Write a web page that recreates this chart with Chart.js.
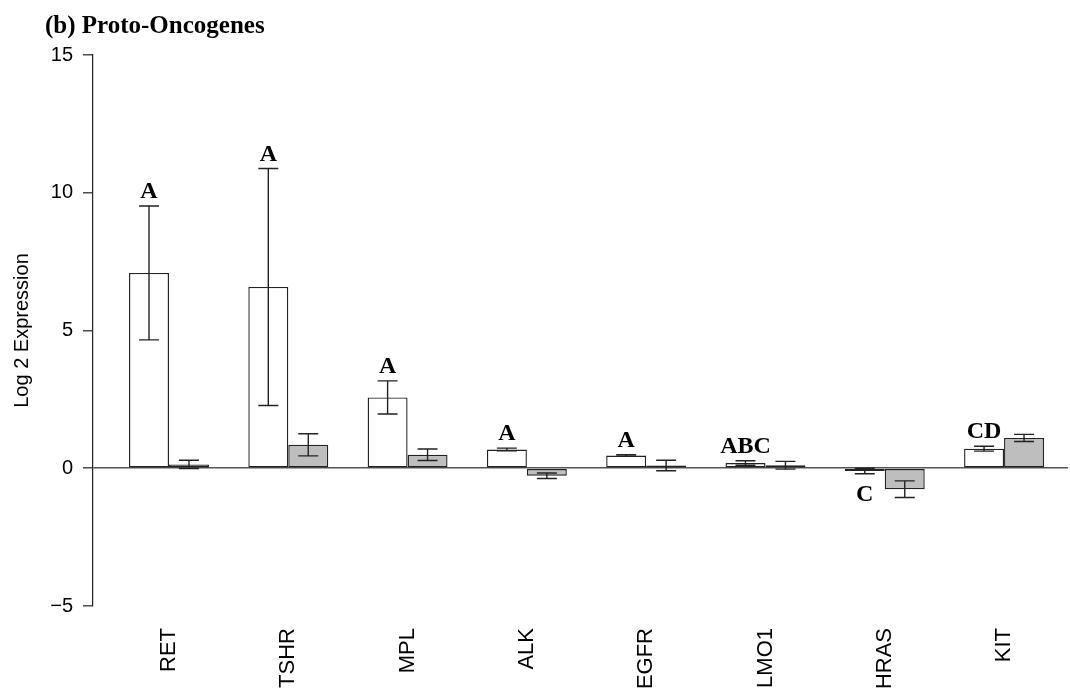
<!DOCTYPE html>
<html>
<head>
<meta charset="utf-8">
<script src="https://cdn.jsdelivr.net/npm/chart.js@4.4.0/dist/chart.umd.min.js"></script>
<style>
    html, body { margin: 0; padding: 0; background: #fff; }
    #wrap { width: 1070px; height: 692px; }
</style>
</head>
<body>
<div id="wrap"><canvas id="chart" width="1070" height="692"></canvas></div>
<script>
// Gene names along the x axis
const genes = ['RET', 'TSHR', 'MPL', 'ALK', 'EGFR', 'LMO1', 'HRAS', 'KIT'];

// White bars (first group) and their error half-widths
const whiteMeans = [7.09, 6.58, 2.57, 0.68, 0.46, 0.19, -0.10, 0.71];
const whiteErrors = [2.43, 4.30, 0.60, 0.05, 0.03, 0.08, 0.10, 0.09];

// Gray bars (second group) and their error half-widths
const grayMeans = [0.14, 0.85, 0.49, -0.27, 0.10, 0.11, -0.76, 1.10];
const grayErrors = [0.15, 0.40, 0.21, 0.10, 0.19, 0.14, 0.30, 0.13];

// Significance letters over the white bars
const letters = ['A', 'A', 'A', 'A', 'A', 'ABC', 'C', 'CD'];

const yTicks = [-5, 0, 5, 10, 15];

const SANS = "'Liberation Sans', Arial, Helvetica, sans-serif";
const SERIF = "'Liberation Serif', 'Times New Roman', serif";
Chart.defaults.font.family = SANS;
Chart.defaults.color = '#000';

// Error bars drawn from the bar elements and the y scale
const errorBarsPlugin = {
    id: 'errorBars',
    afterDatasetsDraw(chart) {
        const { ctx } = chart;
        const y = chart.scales.y;
        const means = [whiteMeans, grayMeans];
        const errs = [whiteErrors, grayErrors];
        ctx.save();
        ctx.strokeStyle = '#222';
        ctx.lineWidth = 1.4;
        chart.data.datasets.forEach((ds, d) => {
            chart.getDatasetMeta(d).data.forEach((bar, i) => {
                const hi = y.getPixelForValue(means[d][i] + errs[d][i]);
                const lo = y.getPixelForValue(means[d][i] - errs[d][i]);
                const half = bar.width / 4;
                ctx.beginPath();
                ctx.moveTo(bar.x, hi); ctx.lineTo(bar.x, lo);
                ctx.moveTo(bar.x - half, hi); ctx.lineTo(bar.x + half, hi);
                ctx.moveTo(bar.x - half, lo); ctx.lineTo(bar.x + half, lo);
                ctx.stroke();
            });
        });
        ctx.restore();
    }
};

// Letters above (or below, for negative means) the white bars
const lettersPlugin = {
    id: 'letters',
    afterDatasetsDraw(chart) {
        const { ctx } = chart;
        const y = chart.scales.y;
        ctx.save();
        ctx.font = 'bold 24px ' + SERIF;
        ctx.fillStyle = '#000';
        ctx.textAlign = 'center';
        ctx.textBaseline = 'alphabetic';
        chart.getDatasetMeta(0).data.forEach((bar, i) => {
            const m = whiteMeans[i], e = whiteErrors[i];
            if (m >= 0) {
                ctx.fillText(letters[i], bar.x, y.getPixelForValue(m + e) - 8);
            } else {
                ctx.fillText(letters[i], bar.x, y.getPixelForValue(m - e) + 27);
            }
        });
        ctx.restore();
    }
};

// Panel title in the top-left corner
const panelTitlePlugin = {
    id: 'panelTitle',
    afterDraw(chart) {
        const { ctx } = chart;
        ctx.save();
        ctx.font = 'bold 25px ' + SERIF;
        ctx.fillStyle = '#000';
        ctx.textAlign = 'left';
        ctx.textBaseline = 'alphabetic';
        ctx.fillText('(b) Proto-Oncogenes', 45, 33);
        ctx.restore();
    }
};

const ctx = document.getElementById('chart').getContext('2d');

new Chart(ctx, {
    type: 'bar',
    data: {
        datasets: [
            {
                label: 'White',
                data: whiteMeans.map((v, i) => ({ x: i, y: v })),
                backgroundColor: '#ffffff',
                borderColor: '#222',
                borderWidth: 1.4,
                borderSkipped: false,
                categoryPercentage: 0.67,
                barPercentage: 1.0
            },
            {
                label: 'Gray',
                data: grayMeans.map((v, i) => ({ x: i, y: v })),
                backgroundColor: '#bebebe',
                borderColor: '#222',
                borderWidth: 1.4,
                borderSkipped: false,
                categoryPercentage: 0.67,
                barPercentage: 1.0
            }
        ]
    },
    options: {
        responsive: false,
        animation: false,
        layout: { padding: { top: 55, right: 2, left: 0, bottom: 0 } },
        plugins: {
            legend: { display: false },
            tooltip: { enabled: false },
            title: { display: false }
        },
        scales: {
            x: {
                type: 'linear',
                offset: false,
                min: -0.637,
                max: 7.536,
                afterBuildTicks: s => { s.ticks = genes.map((g, i) => ({ value: i })); },
                afterFit: s => { s.height = 86; },
                ticks: {
                    autoSkip: false,
                    minRotation: 90,
                    maxRotation: 90,
                    padding: 22,
                    font: { size: 22 },
                    color: '#000',
                    callback: v => genes[v]
                },
                grid: { display: false, drawTicks: false },
                border: { display: false }
            },
            y: {
                min: -5,
                max: 15,
                afterBuildTicks: s => { s.ticks = yTicks.map(v => ({ value: v })); },
                afterFit: s => { s.width = 93; },
                ticks: {
                    padding: 10,
                    font: { size: 20 },
                    color: '#000',
                    callback: v => v < 0 ? '\u2212' + Math.abs(v) : String(v)
                },
                grid: {
                    drawOnChartArea: true,
                    drawTicks: true,
                    tickLength: 10,
                    tickColor: '#222',
                    tickWidth: 1.2,
                    color: c => (c.tick && c.tick.value === 0) ? '#555' : 'rgba(0,0,0,0)',
                    lineWidth: 1.6
                },
                border: { display: true, color: '#222', width: 1.2 },
                title: {
                    display: true,
                    text: 'Log 2 Expression',
                    font: { size: 20 },
                    color: '#000',
                    padding: { top: 10, bottom: 16 }
                }
            }
        }
    },
    plugins: [errorBarsPlugin, lettersPlugin, panelTitlePlugin]
});
</script>
</body>
</html>
